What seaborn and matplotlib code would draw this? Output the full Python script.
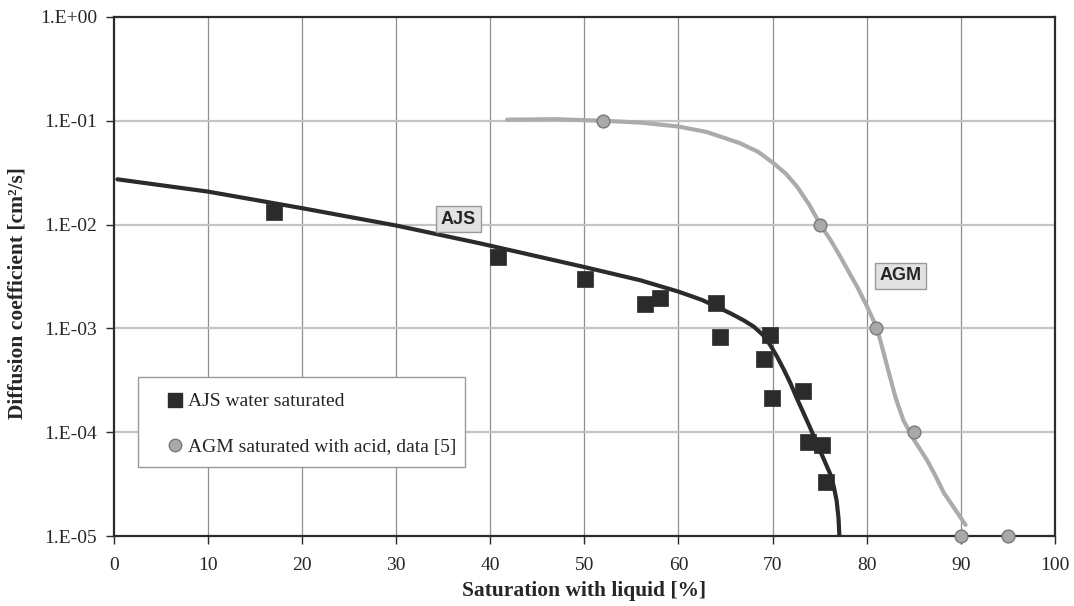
import numpy as np
import pandas as pd
import matplotlib
matplotlib.use("Agg")
import matplotlib.pyplot as plt
import seaborn as sns
from matplotlib.patches import Rectangle
from matplotlib.lines import Line2D

# ---------------- data ----------------
ajs_x = [17.0, 40.8, 50.1, 56.4, 58.0, 64.0, 64.4, 69.75, 69.1, 69.9, 73.2, 73.8, 75.3, 75.7]
ajs_y = [0.0132, 0.0049, 0.00297, 0.00172, 0.00195, 0.00175, 0.00082, 0.00086,
         0.000503, 0.000215, 0.00025, 0.00008, 0.000076, 0.0000333]

agm_x = [52, 75, 81, 85, 90, 95]
agm_y = [1e-1, 1e-2, 1e-3, 1e-4, 1e-5, 1e-5]

ajs_fit_x = [0.4, 10, 20, 30, 38.9, 50, 56, 60, 62.5, 64.1, 65.5, 66.9, 68.0, 69.0, 69.8,
             70.5, 71.2, 71.9, 72.6, 73.3, 74.0, 74.7, 75.4, 76.1, 76.5, 76.8, 77.0, 77.1]
ajs_fit_y = [0.0273, 0.0208, 0.0144, 0.0098, 0.0066, 0.0039, 0.0029, 0.00226, 0.00188, 0.00161,
             0.0014, 0.0012, 0.00104, 0.00086, 0.00068, 0.00053, 0.0004, 0.000296, 0.00021,
             0.000152, 0.00011, 0.000078, 0.000056, 0.00004, 0.00003, 0.000022, 0.000015, 0.00001]

agm_fit_x = [41.8, 47, 52, 56, 60, 63, 66.5, 68.5, 70.1, 71.4, 72.6, 73.9, 75.07, 76.2, 77.2,
             78.1, 79.0, 80.0, 81.1, 81.8, 82.4, 83.1, 83.9, 85.0, 86.4, 87.3, 88.2, 89.4, 90.5]
agm_fit_y = [0.1025, 0.1035, 0.100, 0.096, 0.088, 0.078, 0.061, 0.050, 0.039, 0.031, 0.0232,
             0.0155, 0.0100, 0.0070, 0.0049, 0.0035, 0.0025, 0.00165, 0.0010, 0.00058, 0.00036,
             0.00021, 0.00013, 0.000085, 0.000054, 0.000038, 0.000026, 0.000018, 0.0000128]

x_ticks = [0, 10, 20, 30, 40, 50, 60, 70, 80, 90, 100]
y_ticks = [1e-5, 1e-4, 1e-3, 1e-2, 1e-1, 1e0]
y_tick_labels = ["1.E-05", "1.E-04", "1.E-03", "1.E-02", "1.E-01", "1.E+00"]

series_labels = ["AJS water saturated", "AGM saturated with acid, data [5]"]
curve_labels = ["AJS", "AGM"]

# ---------------- style ----------------
sns.set_theme(style="white")
plt.rcParams['font.family'] = ['Liberation Serif', 'DejaVu Serif']

dark = "#2b2b2b"
grey_line = "#ababab"

fig = plt.figure(figsize=(10.74, 6.06), dpi=100)
ax = fig.add_axes([0.1058, 0.1155, 0.8765, 0.8565])

ax.set_yscale("log")
ax.set_xlim(0, 100)
ax.set_ylim(1e-5, 1)

# grid
for xv in x_ticks[1:-1]:
    ax.axvline(xv, color="#8f8f8f", lw=0.9, zorder=0)
for yv in y_ticks[1:-1]:
    ax.axhline(yv, color="#c4c4c4", lw=1.6, zorder=0)

# fitted curves
fit_ajs = pd.DataFrame({"x": ajs_fit_x, "y": ajs_fit_y})
fit_agm = pd.DataFrame({"x": agm_fit_x, "y": agm_fit_y})
sns.lineplot(data=fit_agm, x="x", y="y", ax=ax, color=grey_line, lw=3,
             sort=False, estimator=None, zorder=2)
sns.lineplot(data=fit_ajs, x="x", y="y", ax=ax, color=dark, lw=3,
             sort=False, estimator=None, zorder=2)

# data points
df_ajs = pd.DataFrame({"x": ajs_x, "y": ajs_y})
df_agm = pd.DataFrame({"x": agm_x, "y": agm_y})
sns.scatterplot(data=df_ajs, x="x", y="y", ax=ax, marker="s", s=120,
                color=dark, edgecolor=dark, linewidth=0.5, zorder=3, clip_on=False)
sns.scatterplot(data=df_agm, x="x", y="y", ax=ax, marker="o", s=85,
                color="#a9a9a9", edgecolor="#7a7a7a", linewidth=1.0, zorder=4, clip_on=False)

# ticks
ax.set_xticks(x_ticks)
ax.set_xticklabels([str(v) for v in x_ticks], fontsize=14)
ax.set_yticks(y_ticks)
ax.set_yticklabels(y_tick_labels, fontsize=14)
ax.minorticks_off()
ax.tick_params(axis="both", direction="out", length=6, width=1, color=dark,
               left=True, bottom=True, pad=6)
ax.tick_params(axis="x", pad=9)

for sp in ax.spines.values():
    sp.set_color(dark)
    sp.set_linewidth(1.6)
    sp.set_visible(True)

ax.set_xlabel("Saturation with liquid [%]", fontsize=15.5, fontweight="bold")
ax.set_ylabel("Diffusion coefficient [cm²/s]", fontsize=15.5, fontweight="bold")
ax.xaxis.set_label_coords(0.5, -0.087)
ax.yaxis.set_label_coords(-0.091, 0.468)

# curve labels
box = dict(boxstyle="square,pad=0.25", facecolor="#e2e2e2", edgecolor="#9a9a9a", lw=1)
ax.text(36.65, 0.0113, curve_labels[0], fontsize=13, fontweight="bold",
        family=["Liberation Sans", "DejaVu Sans"], ha="center", va="center", bbox=box, zorder=5)
ax.text(83.6, 0.00321, curve_labels[1], fontsize=13, fontweight="bold",
        family=["Liberation Sans", "DejaVu Sans"], ha="center", va="center", bbox=box, zorder=5)

# legend frame + legend
ax.add_patch(Rectangle((0.026, 0.132), 0.347, 0.175, transform=ax.transAxes,
                       facecolor="white", edgecolor="#9a9a9a", lw=1, zorder=6))
handles = [
    Line2D([], [], marker="s", ls="none", markersize=10.5, color=dark, markeredgecolor=dark),
    Line2D([], [], marker="o", ls="none", markersize=9, color="#a9a9a9", markeredgecolor="#7a7a7a"),
]
leg = ax.legend(handles, series_labels, loc="upper left", bbox_to_anchor=(0.058, 0.276),
                frameon=False, fontsize=14, handlelength=0.7, handletextpad=0.3,
                labelspacing=1.42, borderpad=0.0, borderaxespad=0.0)
leg.set_zorder(7)

fig.savefig("out.png", dpi=100, facecolor="white")
